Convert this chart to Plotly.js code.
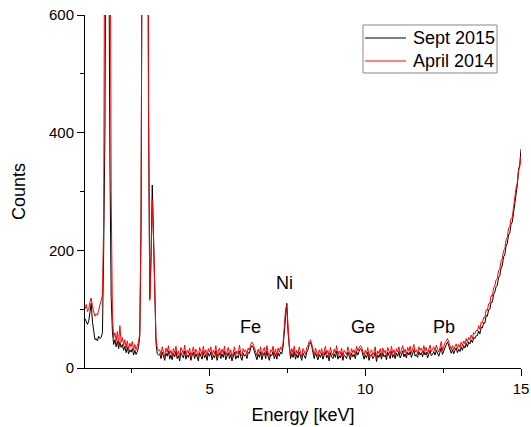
<!DOCTYPE html>
<html>
<head>
<meta charset="utf-8">
<script src="https://cdn.plot.ly/plotly-3.0.1.min.js"></script>
<style>html,body{margin:0;padding:0;background:#fff}#chart{width:531px;height:427px}</style>
</head>
<body>
<div id="chart"></div>
<script>
// Energy grid: first channel and channel width (keV)
var energyStart = 1.0;
var energyStep = 0.04;

// Sept 2015 counts (black), one value per 0.04 keV from 1.00 to 15.00 keV
var sept2015 = [
  84, 80, 74, 80, 100, 110, 78, 60, 48, 50,
  46, 54, 50, 52, 60, 200, 400, 900, 1500, 800,
  350, 120, 62, 40, 48, 36, 46, 33, 44, 35,
  40, 30, 37, 26, 35, 24, 31, 27, 33, 22,
  30, 23, 28, 36, 55, 240, 880, 2450, 3500, 3100,
  1150, 440, 118, 190, 311, 225, 105, 42, 24, 22,
  24, 16, 27, 18, 13, 25, 20, 29, 15, 22,
  14, 25, 19, 28, 16, 21, 12, 26, 20, 17,
  29, 15, 22, 18, 26, 13, 21, 27, 16, 24,
  19, 12, 26, 21, 15, 28, 17, 23, 13, 25,
  20, 27, 14, 22, 17, 29, 13, 21, 26, 16,
  24, 18, 28, 14, 20, 26, 16, 23, 12, 22,
  27, 15, 21, 17, 29, 19, 13, 25, 20, 23,
  16, 26, 25, 34, 38, 35, 27, 20, 14, 24,
  18, 27, 14, 22, 26, 16, 29, 19, 13, 23,
  21, 28, 16, 24, 15, 26, 20, 27, 24, 36,
  60, 96, 110, 60, 30, 16, 25, 18, 28, 15,
  23, 17, 27, 20, 13, 25, 21, 16, 27, 31,
  40, 44, 37, 25, 16, 26, 19, 14, 23, 18,
  25, 15, 21, 28, 17, 22, 12, 26, 19, 16,
  24, 18, 29, 15, 21, 17, 26, 13, 22, 20,
  16, 27, 21, 14, 25, 19, 23, 16, 28, 22,
  28, 33, 31, 21, 15, 22, 17, 27, 13, 21,
  23, 16, 20, 27, 11, 22, 18, 25, 15, 26,
  19, 22, 14, 27, 21, 16, 28, 18, 23, 16,
  25, 20, 28, 17, 22, 29, 19, 24, 17, 27,
  22, 28, 18, 25, 31, 20, 23, 18, 28, 22,
  26, 19, 29, 22, 27, 17, 25, 30, 21, 23,
  28, 22, 30, 24, 20, 27, 35, 23, 29, 36,
  40, 44, 38, 30, 25, 31, 24, 30, 34, 26,
  32, 28, 36, 30, 38, 34, 42, 36, 44, 41,
  48, 43, 52, 50, 55, 55, 63, 58, 69, 68,
  77, 76, 89, 88, 99, 100, 112, 112, 125, 129,
  138, 141, 154, 157, 170, 174, 189, 192, 207, 212,
  226, 229, 244, 248, 264, 274, 298, 310, 334, 346, 372
];

// April 2014 counts (red), same grid
var april2014 = [
  100, 108, 96, 100, 112, 119, 104, 95, 88, 92,
  90, 98, 106, 112, 124, 250, 950, 2800, 3800, 2600,
  1000, 300, 90, 52, 60, 46, 62, 40, 72, 44,
  52, 38, 48, 34, 46, 31, 42, 36, 45, 30,
  40, 31, 38, 44, 60, 250, 900, 2500, 3600, 3200,
  1200, 450, 115, 180, 286, 220, 110, 50, 34, 30,
  31, 22, 36, 25, 19, 34, 27, 38, 23, 30,
  20, 33, 26, 37, 22, 29, 18, 35, 28, 24,
  39, 21, 30, 25, 34, 19, 28, 36, 23, 32,
  26, 18, 35, 29, 22, 37, 24, 31, 20, 33,
  27, 36, 21, 30, 24, 38, 19, 29, 34, 22,
  32, 25, 37, 20, 28, 35, 23, 31, 18, 30,
  36, 22, 29, 24, 39, 26, 20, 33, 27, 31,
  23, 34, 30, 40, 44, 41, 33, 27, 21, 32,
  25, 36, 20, 30, 35, 22, 38, 26, 19, 31,
  28, 37, 23, 32, 21, 34, 27, 36, 31, 42,
  68, 100, 107, 64, 36, 22, 33, 25, 37, 21,
  30, 24, 36, 27, 19, 33, 28, 23, 35, 38,
  45, 48, 41, 30, 22, 34, 26, 20, 31, 25,
  33, 21, 28, 37, 24, 30, 18, 35, 26, 22,
  32, 25, 38, 21, 29, 24, 34, 19, 30, 27,
  23, 36, 28, 20, 33, 26, 31, 22, 37, 29,
  34, 38, 36, 27, 21, 30, 24, 35, 19, 28,
  31, 22, 27, 36, 16, 29, 25, 33, 21, 34,
  26, 30, 20, 35, 28, 23, 37, 25, 31, 22,
  33, 27, 36, 24, 30, 38, 26, 32, 23, 35,
  29, 37, 25, 33, 40, 27, 31, 24, 36, 30,
  34, 26, 38, 29, 35, 24, 33, 39, 28, 31,
  36, 29, 39, 32, 27, 35, 45, 30, 38, 43,
  46, 50, 44, 36, 31, 38, 30, 37, 41, 33,
  40, 35, 44, 37, 46, 41, 50, 43, 52, 48,
  56, 50, 60, 58, 64, 63, 72, 66, 78, 77,
  86, 85, 99, 98, 109, 110, 123, 122, 136, 140,
  150, 152, 166, 168, 182, 186, 200, 202, 218, 222,
  238, 240, 254, 256, 274, 282, 306, 314, 338, 342, 360
];

var seriesNames = ["Sept 2015", "April 2014"];
var seriesColors = ["#000000", "#ff0000"];
var peakLabels = ["Fe", "Ni", "Ge", "Pb"];
var peakLabelX = [6.33, 7.39, 9.94, 12.54];
var peakLabelY = [70, 144, 70, 70];
var xTickVals = [5, 10, 15];
var yTickVals = [0, 200, 400, 600];

var font = "Arial, 'Liberation Sans', sans-serif";

var traces = [
  {type: "scatter", mode: "lines", name: seriesNames[0], x0: energyStart, dx: energyStep, y: sept2015,
   line: {color: seriesColors[0], width: 1}, showlegend: false},
  {type: "scatter", mode: "lines", name: seriesNames[1], x0: energyStart, dx: energyStep, y: april2014,
   line: {color: seriesColors[1], width: 1}, showlegend: false}
];

var annotations = peakLabels.map(function (t, i) {
  return {x: peakLabelX[i], y: peakLabelY[i], xref: "x", yref: "y", text: t, showarrow: false,
          font: {family: font, size: 18, color: "#000"}};
});

// Legend box drawn in paper coordinates
var legendRowY = [0.9348, 0.8697];
var shapes = [
  {type: "rect", xref: "paper", yref: "paper", x0: 0.6376, x1: 0.945, y0: 0.8357, y1: 0.9717,
   line: {color: "#888", width: 1}, fillcolor: "#fff", layer: "above"}
];
seriesNames.forEach(function (n, i) {
  shapes.push({type: "line", xref: "paper", yref: "paper", x0: 0.6422, x1: 0.7362,
               y0: legendRowY[i], y1: legendRowY[i], line: {color: seriesColors[i], width: 1}, layer: "above"});
  annotations.push({xref: "paper", yref: "paper", x: 0.7466, y: legendRowY[i], xanchor: "left", yanchor: "middle",
                    text: n, showarrow: false, font: {family: font, size: 18, color: "#000"}});
});

var layout = {
  width: 531, height: 427,
  margin: {l: 85, r: 10, t: 15, b: 59},
  paper_bgcolor: "#fff", plot_bgcolor: "#fff",
  font: {family: font, color: "#000"},
  showlegend: false,
  xaxis: {range: [1, 15], tickvals: xTickVals, ticktext: xTickVals.map(String),
          showline: true, linecolor: "#000", linewidth: 1, ticks: "outside", ticklen: 7, tickwidth: 1, tickcolor: "#000",
          minor: {tickvals: [2.5, 7.5, 12.5], ticks: "outside", ticklen: 4, tickwidth: 1, tickcolor: "#000"},
          showgrid: false, zeroline: false, tickfont: {size: 15, family: font},
          title: {text: "Energy [keV]", font: {size: 18, family: font}, standoff: 12}},
  yaxis: {range: [0, 600], tickvals: yTickVals, ticktext: yTickVals.map(String),
          showline: true, linecolor: "#000", linewidth: 1, ticks: "outside", ticklen: 7, tickwidth: 1, tickcolor: "#000",
          minor: {tickvals: [100, 300, 500], ticks: "outside", ticklen: 4, tickwidth: 1, tickcolor: "#000"},
          showgrid: false, zeroline: false, tickfont: {size: 15, family: font},
          title: {text: "Counts", font: {size: 18, family: font}, standoff: 18}},
  annotations: annotations,
  shapes: shapes
};

Plotly.newPlot("chart", traces, layout, {displayModeBar: false, staticPlot: true});
</script>
</body>
</html>
